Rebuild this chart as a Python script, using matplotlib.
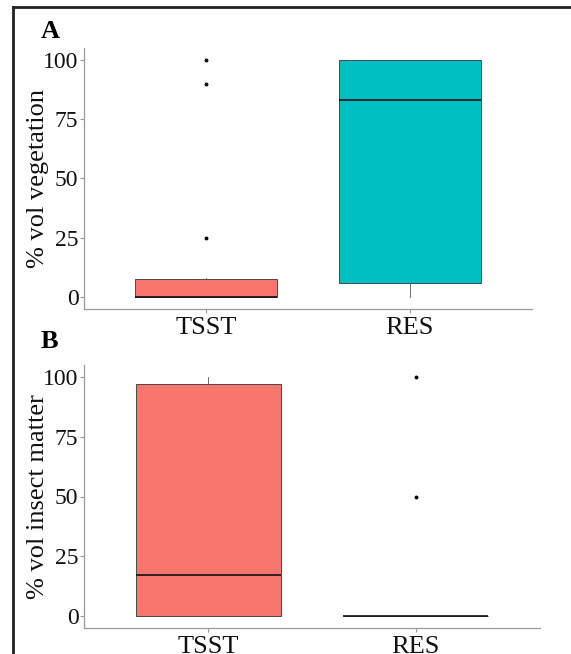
import matplotlib
matplotlib.use("Agg")
import matplotlib.pyplot as plt
from matplotlib.lines import Line2D

plt.rcParams['font.family'] = ['Liberation Serif', 'DejaVu Serif']

categories = ["TSST", "RES"]
colors = ["#F8766D", "#00BFC4"]

# Panel A: % vol vegetation
veg_q1 = [0, 6]
veg_med = [0, 83]
veg_q3 = [7.5, 100]
veg_whislo = [0, 0]
veg_whishi = [8, 100]
veg_fliers = [[25, 90, 100], []]

# Panel B: % vol insect matter
ins_q1 = [0, 0]
ins_med = [17, 0]
ins_q3 = [97, 0]
ins_whislo = [0, 0]
ins_whishi = [100, 0]
ins_fliers = [[], [50, 100]]

yticks = [0, 25, 50, 75, 100]

W, H = 571, 654
fig = plt.figure(figsize=(W / 100, H / 100), dpi=100)

def fr(x0, y0, x1, y1):
    return [x0 / W, 1 - y1 / H, (x1 - x0) / W, (y1 - y0) / H]

def panel(ax, q1, med, q3, lo, hi, fliers, ylabel, width_px):
    stats = []
    for i in range(len(categories)):
        stats.append(dict(q1=q1[i], med=med[i], q3=q3[i], whislo=lo[i],
                          whishi=hi[i], fliers=fliers[i], label=categories[i]))
    bp = ax.bxp(stats, positions=[1, 2], widths=0.7, patch_artist=True,
                showcaps=False,
                boxprops=dict(edgecolor="#333333", linewidth=0.6),
                medianprops=dict(color="#111111", linewidth=1.2),
                whiskerprops=dict(color="#555555", linewidth=0.6),
                flierprops=dict(marker='o', markersize=1.8, markerfacecolor='black',
                                markeredgecolor='black', linestyle='none'))
    for patch, c in zip(bp['boxes'], colors):
        patch.set_facecolor(c)
    ax.set_xlim(0.4, 2.6)
    ax.set_ylim(-5, 105)
    ax.set_yticks(yticks)
    ax.set_yticklabels([str(v) for v in yticks])
    ax.set_xticks([1, 2])
    ax.set_xticklabels(categories)
    for s in ['top', 'right']:
        ax.spines[s].set_visible(False)
    for s in ['left', 'bottom']:
        ax.spines[s].set_color('#999999')
        ax.spines[s].set_linewidth(0.9)
    ax.tick_params(axis='both', colors='#999999', length=3, width=0.8,
                   labelcolor='#111111')
    ax.tick_params(axis='y', labelsize=17, pad=1)
    ax.tick_params(axis='x', labelsize=19, pad=3)
    ax.set_ylabel(ylabel, fontsize=19, color='#111111')
    ax.yaxis.set_label_coords((49 - 84) / width_px, 0.5)

axA = fig.add_axes(fr(84, 48, 532, 309))
panel(axA, veg_q1, veg_med, veg_q3, veg_whislo, veg_whishi, veg_fliers,
      "% vol vegetation", 448)
axB = fig.add_axes(fr(84, 365, 540, 628))
panel(axB, ins_q1, ins_med, ins_q3, ins_whislo, ins_whishi, ins_fliers,
      "% vol insect matter", 456)

fig.text(41 / W, 1 - 32 / H, "A", fontsize=19, fontweight='bold', va='center', ha='left')
fig.text(41 / W, 1 - 342 / H, "B", fontsize=19, fontweight='bold', va='center', ha='left')

# frame border (left and top)
fig.add_artist(Line2D([13 / W, 13 / W], [0, 1 - 7 / H], color='#222222', linewidth=2,
                      transform=fig.transFigure))
fig.add_artist(Line2D([13 / W, 1], [1 - 7 / H, 1 - 7 / H], color='#222222', linewidth=2,
                      transform=fig.transFigure))

fig.savefig("out.png", dpi=100)
